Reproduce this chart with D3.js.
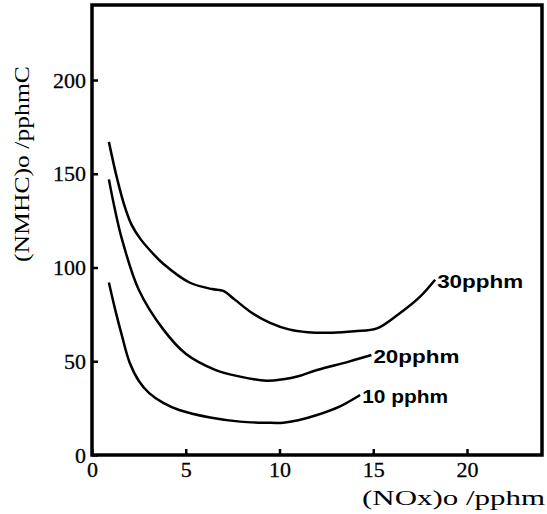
<!DOCTYPE html>
<html>
<head>
<meta charset="utf-8">
<script src="https://cdn.jsdelivr.net/npm/d3@7"></script>
<style>
  body { margin: 0; background: #fff; }
  svg { display: block; }
  .tick text { font-family: "Liberation Serif", "DejaVu Serif", serif; font-size: 22px; fill: #000; stroke: #000; stroke-width: 0.3px; }
  .tick line { stroke: #000; stroke-width: 2.5px; }
</style>
</head>
<body>
<div id="chart"></div>
<script>
// curves (NOx)o vs (NMHC)o, one per O3 level
var seriesNames = ["30pphm", "20pphm", "10 pphm"];

var nox30  = [0.9, 1.3, 1.7, 2.1, 2.6, 3.2, 3.8, 5.2, 6.4, 7.0, 7.6, 8.5, 9.5, 10.5, 11.5, 12.8, 14.0, 15.2, 16.4, 17.5, 18.3];
var nmhc30 = [167, 149, 134, 123, 115, 108, 102, 92, 88.5, 87.5, 83, 76, 70.5, 67, 65.5, 65.2, 66, 67.5, 75.5, 84.5, 93.5];

var nox20  = [0.9, 1.2, 1.6, 2.5, 3.8, 5.0, 6.6, 7.9, 9.3, 10.2, 11.0, 12.0, 13.7, 14.9];
var nmhc20 = [147, 132, 115, 88, 67, 54, 45.3, 41.8, 39.6, 40.4, 42, 45.3, 49.8, 53.3];

var nox10  = [0.9, 1.25, 1.6, 2.0, 2.5, 3.05, 3.8, 4.65, 6.3, 7.9, 9.3, 10.2, 11.0, 12.0, 13.2, 14.3];
var nmhc10 = [92, 77, 63.5, 49.5, 39.5, 33, 27.8, 24, 20, 17.8, 17.2, 17.2, 18.5, 21.3, 25.8, 32];

var xTicks = [0, 5, 10, 15, 20];
var yTicks = [0, 50, 100, 150, 200];

var width = 547, height = 514;
var margin = {top: 5, right: 5, bottom: 59, left: 92};

var svg = d3.select("#chart").append("svg")
    .attr("width", width)
    .attr("height", height);

var x = d3.scaleLinear().domain([0, 24]).range([margin.left, width - margin.right]);
var y = d3.scaleLinear().domain([0, 240]).range([height - margin.bottom, margin.top]);

// axes, ticks pointing inside
var xAxis = svg.append("g")
    .attr("transform", "translate(0," + y(0) + ")")
    .call(d3.axisBottom(x).tickValues(xTicks).tickSizeInner(-6).tickSizeOuter(0).tickPadding(6));
xAxis.select(".domain").remove();

var yAxis = svg.append("g")
    .attr("transform", "translate(" + x(0) + ",0)")
    .call(d3.axisLeft(y).tickValues(yTicks).tickSizeInner(-6).tickSizeOuter(0).tickPadding(6));
yAxis.select(".domain").remove();

// frame
svg.append("rect")
    .attr("x", x(0))
    .attr("y", y(240))
    .attr("width", x(24) - x(0))
    .attr("height", y(0) - y(240))
    .attr("fill", "none")
    .attr("stroke", "#000")
    .attr("stroke-width", 3.5);

var line = d3.line()
    .x(function(d) { return x(d[0]); })
    .y(function(d) { return y(d[1]); })
    .curve(d3.curveCatmullRom.alpha(0.5));

var curves = [d3.zip(nox30, nmhc30), d3.zip(nox20, nmhc20), d3.zip(nox10, nmhc10)];

curves.forEach(function(pts, i) {
  svg.append("path")
      .datum(pts)
      .attr("d", line)
      .attr("fill", "none")
      .attr("stroke", "#000")
      .attr("stroke-width", 2.5);

  var last = pts[pts.length - 1];
  svg.append("text")
      .attr("x", x(last[0]) + 2)
      .attr("y", y(last[1]) + 8)
      .attr("font-family", "Liberation Sans, Arial, sans-serif")
      .attr("font-weight", "bold")
      .attr("font-size", "18px")
      .attr("textLength", 86)
      .attr("lengthAdjust", "spacingAndGlyphs")
      .text(seriesNames[i]);
});

// axis titles
svg.append("text")
    .attr("x", 362)
    .attr("y", 505)
    .attr("font-family", "Liberation Serif, serif")
    .attr("font-size", "20px")
    .attr("textLength", 183)
    .attr("lengthAdjust", "spacingAndGlyphs")
    .text("(NOx)o /pphm");

svg.append("text")
    .attr("transform", "translate(29,164) rotate(-90)")
    .attr("text-anchor", "middle")
    .attr("font-family", "Liberation Serif, serif")
    .attr("font-size", "21px")
    .attr("textLength", 196)
    .attr("lengthAdjust", "spacingAndGlyphs")
    .text("(NMHC)o /pphmC");
</script>
</body>
</html>
